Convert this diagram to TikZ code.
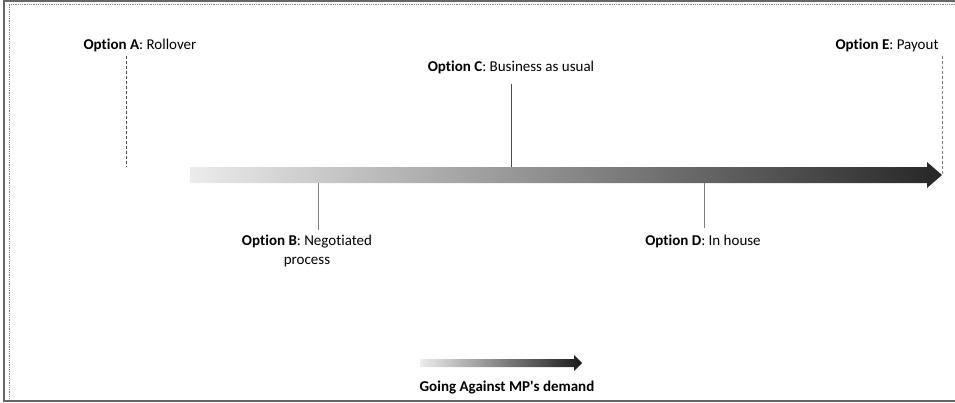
\documentclass[tikz,border=0pt]{standalone}
\usepackage{fontspec}
\setmainfont{Carlito}[Ligatures=NoCommon]
\usetikzlibrary{positioning}
\begin{document}
\begin{tikzpicture}[x=1pt, y=-1pt, every node/.style={font=\fontsize{15}{19}\selectfont, inner sep=1pt},
  lead/.style={black!70, line width=0.6pt}]
  \useasboundingbox (0,0) rectangle (955,402);
  % frame
  \draw[black!60, line width=2pt] (955,1) -- (4,1) -- (4,401) -- (955,401);
  \draw[black!50, densely dotted, line width=0.8pt] (955,4.5) -- (9,4.5) -- (9,398);
  % scale of options
  \shade[left color=gray!15, middle color=black!55, right color=black!85] (190,167) -- (927,167) -- (927,162) -- (942,175) -- (927,188) -- (927,183) -- (190,183) -- cycle;
  \coordinate (a) at (126,167); \coordinate (b) at (318,183); \coordinate (c) at (511,167);
  \coordinate (d) at (704,183); \coordinate (e) at (942,175);
  \node (optA) at (140,45) {\textbf{Option A}: Rollover};
  \node (optC) at (511,67) {\textbf{Option C}: Business as usual};
  \node (optE) at (887,45) {\textbf{Option E}: Payout};
  \node[align=center] (optB) at (307,251) {\textbf{Option B}: Negotiated\\process};
  \node (optD) at (703,241) {\textbf{Option D}: In house};
  \draw[lead, densely dashed] ([yshift=-3pt]optA.south -| a) -- (a);
  \draw[lead] ([yshift=-9pt]optC.south -| c) -- (c);
  \draw[lead, densely dashed, gray] ([yshift=-3pt]optE.south -| e) -- (e);
  \draw[lead, gray] (b) -- ([yshift=4pt]optB.north -| b);
  \draw[lead, gray] (d) -- ([yshift=5pt]optD.north -| d);
  % legend
  \shade[left color=gray!15, middle color=black!55, right color=black!90] (420,359) -- (574,359) -- (574,355) -- (582,363) -- (574,371) -- (574,367) -- (420,367) -- cycle;
  \node (leg) at (507,388) {\textbf{Going Against MP\textquotesingle s demand}};
\end{tikzpicture}
\end{document}
